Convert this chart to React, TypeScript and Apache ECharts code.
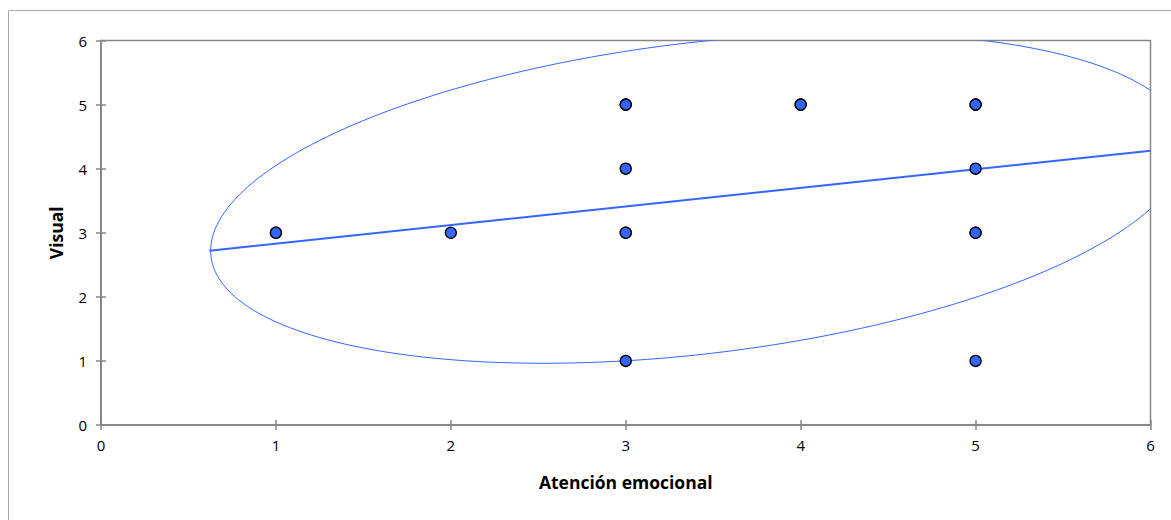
import React, { useEffect, useRef } from "react";
import * as echarts from "echarts";

const X_TICKS = [0, 1, 2, 3, 4, 5, 6];
const Y_TICKS = [0, 1, 2, 3, 4, 5, 6];
const X_TITLE = "Atención emocional";
const Y_TITLE = "Visual";

// observations (Atención emocional, Visual); repeated pairs drawn on top of each other
const POINTS_X = [1, 1, 2, 3, 3, 3, 3, 3, 3, 4, 4, 5, 5, 5, 5, 5, 5];
const POINTS_Y = [3, 3, 3, 5, 5, 4, 3, 3, 1, 5, 5, 5, 5, 4, 3, 3, 1];

// trend line end points
const TREND_X = [0.62, 6];
const TREND_Y = [2.72, 4.28];

// ellipse: centre and spread (data units)
const ELLIPSE_CENTER = [3.417, 3.539];
const ELLIPSE_SXX = 7.784;
const ELLIPSE_SXY = 2.285;
const ELLIPSE_SYY = 6.636;

const BLUE = "#3366FF";
const AXIS_GRAY = "#878787";
const FONT = "'Open Sans', sans-serif";

export default function App() {
  const ref = useRef<HTMLDivElement>(null);
  useEffect(() => {
    if (!ref.current) return;
    const chart = echarts.init(ref.current, undefined, { renderer: "svg" });
    const scatterData = POINTS_X.map((x, i) => [x, POINTS_Y[i]]);
    const trendData = TREND_X.map((x, i) => [x, TREND_Y[i]]);

    const l11 = Math.sqrt(ELLIPSE_SXX);
    const l21 = ELLIPSE_SXY / l11;
    const l22 = Math.sqrt(ELLIPSE_SYY - l21 * l21);

    const axisCommon = {
      min: 0,
      max: 6,
      interval: 1,
      splitLine: { show: false },
      axisLine: { show: true, lineStyle: { color: AXIS_GRAY, width: 1.5 } },
    };

    chart.setOption({
      animation: false,
      backgroundColor: "#ffffff",
      grid: {
        left: 101,
        top: 40.5,
        right: 20.5,
        bottom: 95,
        show: true,
        borderColor: AXIS_GRAY,
        borderWidth: 1.5,
        backgroundColor: "transparent",
      },
      graphic: [
        {
          type: "rect",
          shape: { x: 8.5, y: 10.5, width: 1200, height: 600 },
          style: { fill: "none", stroke: "#a6a6a6", lineWidth: 1 },
          silent: true,
          z: -10,
        },
      ],
      xAxis: [
        {
          type: "value",
          ...axisCommon,
          name: X_TITLE,
          nameLocation: "middle",
          nameGap: 48,
          nameTextStyle: { fontFamily: FONT, fontSize: 17.5, fontWeight: "bold", color: "#000" },
          axisTick: { show: true, length: 5, lineStyle: { color: AXIS_GRAY, width: 1.5 } },
          axisLabel: {
            fontFamily: FONT,
            fontSize: 15,
            color: "#000",
            margin: 12,
            formatter: (v: number) => (X_TICKS.includes(v) ? String(v) : ""),
          },
        },
        {
          type: "value",
          ...axisCommon,
          position: "bottom",
          axisTick: { show: true, inside: true, length: 5, lineStyle: { color: AXIS_GRAY, width: 1.5 } },
          axisLabel: { show: false },
        },
      ],
      yAxis: [
        {
          type: "value",
          ...axisCommon,
          name: Y_TITLE,
          nameLocation: "middle",
          nameGap: 36,
          nameRotate: 90,
          nameTextStyle: { fontFamily: FONT, fontSize: 17.5, fontWeight: "bold", color: "#000" },
          axisTick: { show: true, length: 5, lineStyle: { color: AXIS_GRAY, width: 1.5 } },
          axisLabel: {
            fontFamily: FONT,
            fontSize: 15,
            color: "#000",
            margin: 14,
            formatter: (v: number) => (Y_TICKS.includes(v) ? String(v) : ""),
          },
        },
        {
          type: "value",
          ...axisCommon,
          position: "left",
          axisTick: { show: true, inside: true, length: 5, lineStyle: { color: AXIS_GRAY, width: 1.5 } },
          axisLabel: { show: false },
        },
      ],
      series: [
        {
          type: "custom",
          xAxisIndex: 0,
          yAxisIndex: 0,
          data: [ELLIPSE_CENTER],
          silent: true,
          z: 1,
          renderItem: (params: any, api: any) => {
            const cx = api.value(0);
            const cy = api.value(1);
            const pts: number[][] = [];
            const n = 240;
            for (let i = 0; i <= n; i++) {
              const t = (i / n) * Math.PI * 2;
              const c = Math.cos(t);
              const s = Math.sin(t);
              pts.push(api.coord([cx + l11 * c, cy + l21 * c + l22 * s]));
            }
            const cs = params.coordSys;
            return {
              type: "group",
              clipPath: { type: "rect", shape: { x: cs.x, y: cs.y, width: cs.width, height: cs.height } },
              children: [
                {
                  type: "polyline",
                  shape: { points: pts },
                  style: { fill: "none", stroke: BLUE, lineWidth: 1 },
                },
              ],
            };
          },
        },
        {
          type: "line",
          xAxisIndex: 0,
          yAxisIndex: 0,
          data: trendData,
          symbol: "none",
          lineStyle: { color: BLUE, width: 2 },
          z: 2,
          silent: true,
        },
        {
          type: "scatter",
          xAxisIndex: 0,
          yAxisIndex: 0,
          data: scatterData,
          symbol: "circle",
          symbolSize: 11,
          itemStyle: { color: BLUE, borderColor: "#000", borderWidth: 1.3, opacity: 1 },
          z: 3,
          silent: true,
        },
      ],
    });
    return () => chart.dispose();
  }, []);
  return (
    <div
      ref={ref}
      style={{ position: "fixed", left: 0, top: 0, width: 1171, height: 520, background: "#fff" }}
    />
  );
}
